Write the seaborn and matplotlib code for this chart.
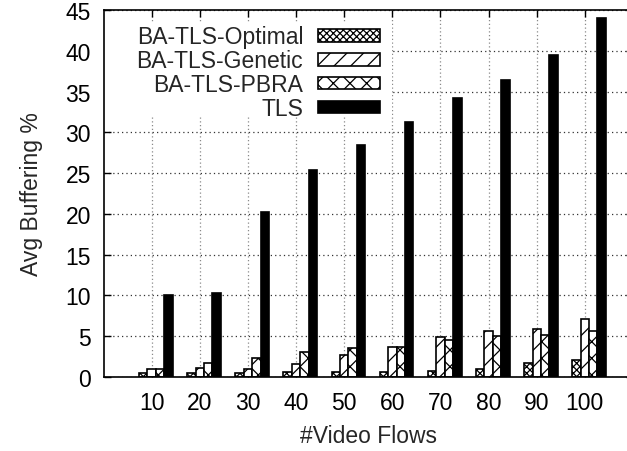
import matplotlib
matplotlib.use("Agg")
import matplotlib.pyplot as plt
import matplotlib.patches as mpatches
import numpy as np
import pandas as pd
import seaborn as sns

# Average buffering per number of video flows, for each scheme
flows = ["10", "20", "30", "40", "50", "60", "70", "80", "90", "100"]
schemes = ["BA-TLS-Optimal", "BA-TLS-Genetic", "BA-TLS-PBRA", "TLS"]
optimal = [0.5, 0.5, 0.5, 0.6, 0.6, 0.65, 0.75, 1.0, 1.7, 2.1]
genetic = [1.0, 1.1, 1.0, 1.6, 2.7, 3.7, 4.9, 5.65, 5.85, 7.1]
pbra = [1.0, 1.7, 2.3, 3.05, 3.55, 3.65, 4.55, 5.0, 5.1, 5.6]
tls = [10.0, 10.25, 20.2, 25.35, 28.45, 31.25, 34.25, 36.45, 39.45, 44.05]
yticks = [0, 5, 10, 15, 20, 25, 30, 35, 40, 45]

hatches = ["xxxxx", "//", "xx", ""]
fills = ["white", "white", "white", "black"]

df = pd.DataFrame({
    "flows": flows * 4,
    "scheme": np.repeat(schemes, len(flows)),
    "value": optimal + genetic + pbra + tls,
})

sns.set_style("white")
plt.rcParams["font.family"] = ["Liberation Sans", "DejaVu Sans"]
plt.rcParams["hatch.linewidth"] = 0.9
plt.rcParams["hatch.color"] = "black"
fs = 16.5

W, H = 627, 452
fig = plt.figure(figsize=(W / 100, H / 100), dpi=100)
x0, x1, y0, y1 = 103.5, 633.0, 378.0, 11.0
ax = fig.add_axes([x0 / W, (H - y0) / H, (x1 - x0) / W, (y0 - y1) / H])

sns.barplot(data=df, x="flows", y="value", hue="scheme", order=flows,
            hue_order=schemes, palette=fills, width=0.7, gap=0,
            edgecolor="black", linewidth=1.2, saturation=1,
            errorbar=None, ax=ax, zorder=2)

for cont, h, c in zip(ax.containers, hatches, fills):
    for bar in cont:
        bar.set_hatch(h)
        bar.set_facecolor(c)
        bar.set_edgecolor("black")

ax.get_legend().remove()

off = -0.0875
ax.set_xticks(np.arange(len(flows)) + off)
ax.set_xticklabels(flows, fontsize=fs)
ax.set_xlim(-1 + off, len(flows) + off)
ax.set_ylim(0, 45)
ax.set_yticks(yticks)
ax.set_yticklabels([str(v) for v in yticks], fontsize=fs)

ax.set_axisbelow(True)
ax.yaxis.grid(True, color="#333333", linestyle=(0, (1, 2.5)), linewidth=0.9)
ax.xaxis.grid(True, color="#8a8a8a", linestyle=(0, (1, 2)), linewidth=0.9)

ax.tick_params(axis="both", direction="in", length=5, width=1.0,
               top=True, right=True, bottom=True, left=True, colors="black",
               labelcolor="black")
ax.tick_params(axis="y", pad=9)
ax.tick_params(axis="x", pad=10)

for s in ax.spines.values():
    s.set_color("black")
    s.set_linewidth(1.2)

ax.set_xlabel("#Video Flows", fontsize=fs, labelpad=7)
ax.set_ylabel("Avg Buffering %", fontsize=fs, labelpad=16)

# white panel behind the key, hiding the grid
ax.add_patch(mpatches.Rectangle((0, 0.708), 0.545, 0.257, transform=ax.transAxes,
                                facecolor="white", edgecolor="none", zorder=1))

ax.legend(handles=list(ax.containers), labels=schemes, loc="upper right",
          bbox_to_anchor=(0.522, 0.958), frameon=False, markerfirst=False,
          fontsize=fs, handlelength=2.7, handleheight=0.48, handletextpad=0.65,
          labelspacing=0.04, borderpad=0, borderaxespad=0)

fig.savefig("out.png", dpi=100)
